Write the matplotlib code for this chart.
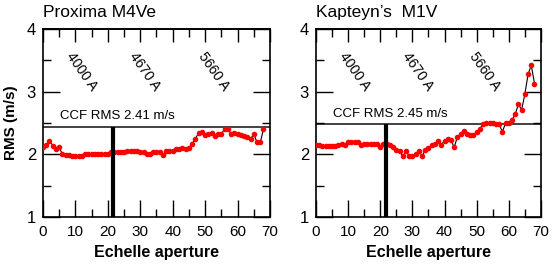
import matplotlib
matplotlib.use("Agg")
import matplotlib.pyplot as plt
from matplotlib.ticker import MultipleLocator

plt.rcParams["font.family"] = ["Liberation Sans", "DejaVu Sans"]

aperture = list(range(69))

proxima_rms = [
    2.11, 2.15, 2.22, 2.14, 2.08, 2.11, 2.00, 1.99, 1.99, 1.98,
    1.98, 1.98, 1.98, 2.00, 2.00, 2.00, 2.00, 2.00, 2.00, 2.00,
    2.01, 2.04, 2.03, 2.03, 2.04, 2.04, 2.05, 2.05, 2.05, 2.06,
    2.04, 2.03, 2.00, 2.01, 2.03, 2.04, 2.04, 1.99, 2.05, 2.06,
    2.06, 2.08, 2.08, 2.10, 2.09, 2.10, 2.17, 2.25, 2.34, 2.36,
    2.31, 2.33, 2.34, 2.30, 2.32, 2.33, 2.40, 2.40, 2.33, 2.34,
    2.32, 2.31, 2.29, 2.28, 2.24, 2.33, 2.19, 2.19, 2.40,
]

kapteyn_rms = [
    2.15, 2.15, 2.14, 2.14, 2.13, 2.14, 2.14, 2.15, 2.16, 2.15,
    2.19, 2.20, 2.20, 2.20, 2.15, 2.17, 2.17, 2.16, 2.17, 2.16,
    2.12, 2.16, 2.17, 2.15, 2.11, 2.07, 2.05, 1.97, 2.05, 1.97,
    1.97, 2.00, 2.06, 1.97, 2.07, 2.10, 2.15, 2.17, 2.22, 2.15,
    2.22, 2.24, 2.23, 2.11, 2.28, 2.33, 2.38, 2.33, 2.31, 2.31,
    2.36, 2.41, 2.48, 2.50, 2.50, 2.50, 2.49, 2.48, 2.36, 2.50,
    2.50, 2.55, 2.64, 2.80, 2.71, 2.96, 3.28, 3.42, 3.13,
]

titles = ["Proxima M4Ve", "Kapteyn\u2019s  M1V"]
ccf_labels = ["CCF RMS 2.41 m/s", "CCF RMS 2.45 m/s"]
ccf_level = [2.44, 2.48]
split_aperture = 21.7
wave_labels = ["4000 A", "4670 A", "5660 A"]
wave_pos = [12, 31.5, 52.5]


def draw_panel(ax, x, y, title, ccf_text, level):
    ax.plot(x, y, color="black", lw=0.8, zorder=2)
    ax.plot(x, y, "o", color="red", ms=3, mec="red", zorder=3)
    ax.axhline(level, color="#333333", lw=1.3, zorder=1)
    ax.plot([split_aperture, split_aperture], [1, level], color="black",
            lw=3, solid_capstyle="butt", zorder=4)
    ax.text(5.3, level + 0.12, ccf_text, fontsize=9.5)
    for lab, xp in zip(wave_labels, wave_pos):
        ax.text(xp, 3.33, lab, rotation=-55, ha="center", va="center",
                fontsize=10)

    ax.set_xlim(0, 70)
    ax.set_ylim(1, 4)
    ax.xaxis.set_major_locator(MultipleLocator(10))
    ax.xaxis.set_minor_locator(MultipleLocator(5))
    ax.yaxis.set_major_locator(MultipleLocator(1))
    ax.yaxis.set_minor_locator(MultipleLocator(0.5))
    ax.tick_params(axis="x", which="major", direction="in", length=12,
                   width=1, labelsize=11, pad=6)
    ax.tick_params(axis="x", which="minor", direction="in", length=6,
                   width=1)
    ax.tick_params(axis="y", which="major", direction="in", length=12,
                   width=1, labelsize=12, right=True, pad=5)
    ax.tick_params(axis="y", which="minor", direction="in", length=6,
                   width=1, right=True)
    for s in ax.spines.values():
        s.set_linewidth(1.2)

    top = ax.secondary_xaxis("top")
    top.xaxis.set_major_locator(MultipleLocator(10))
    top.xaxis.set_minor_locator(MultipleLocator(5))
    top.tick_params(which="major", direction="in", length=9, width=1,
                    labeltop=False)
    top.tick_params(which="minor", direction="in", length=6, width=1)
    top.spines["top"].set_linewidth(1.2)

    ax.set_xlabel("Echelle aperture", fontsize=11.5, fontweight="bold",
                  labelpad=4)
    ax.set_title(title, loc="left", fontsize=12.5, pad=9)


fig = plt.figure(figsize=(5.54, 2.64), dpi=100)
ax1 = fig.add_axes([0.0776, 0.178, 0.4097, 0.712])
ax2 = fig.add_axes([0.5704, 0.178, 0.406, 0.712])

draw_panel(ax1, aperture, proxima_rms, titles[0], ccf_labels[0], ccf_level[0])
draw_panel(ax2, aperture, kapteyn_rms, titles[1], ccf_labels[1], ccf_level[1])
ax1.set_ylabel("RMS (m/s)", fontsize=11, fontweight="bold", labelpad=6)

fig.savefig("out.png", dpi=100)
